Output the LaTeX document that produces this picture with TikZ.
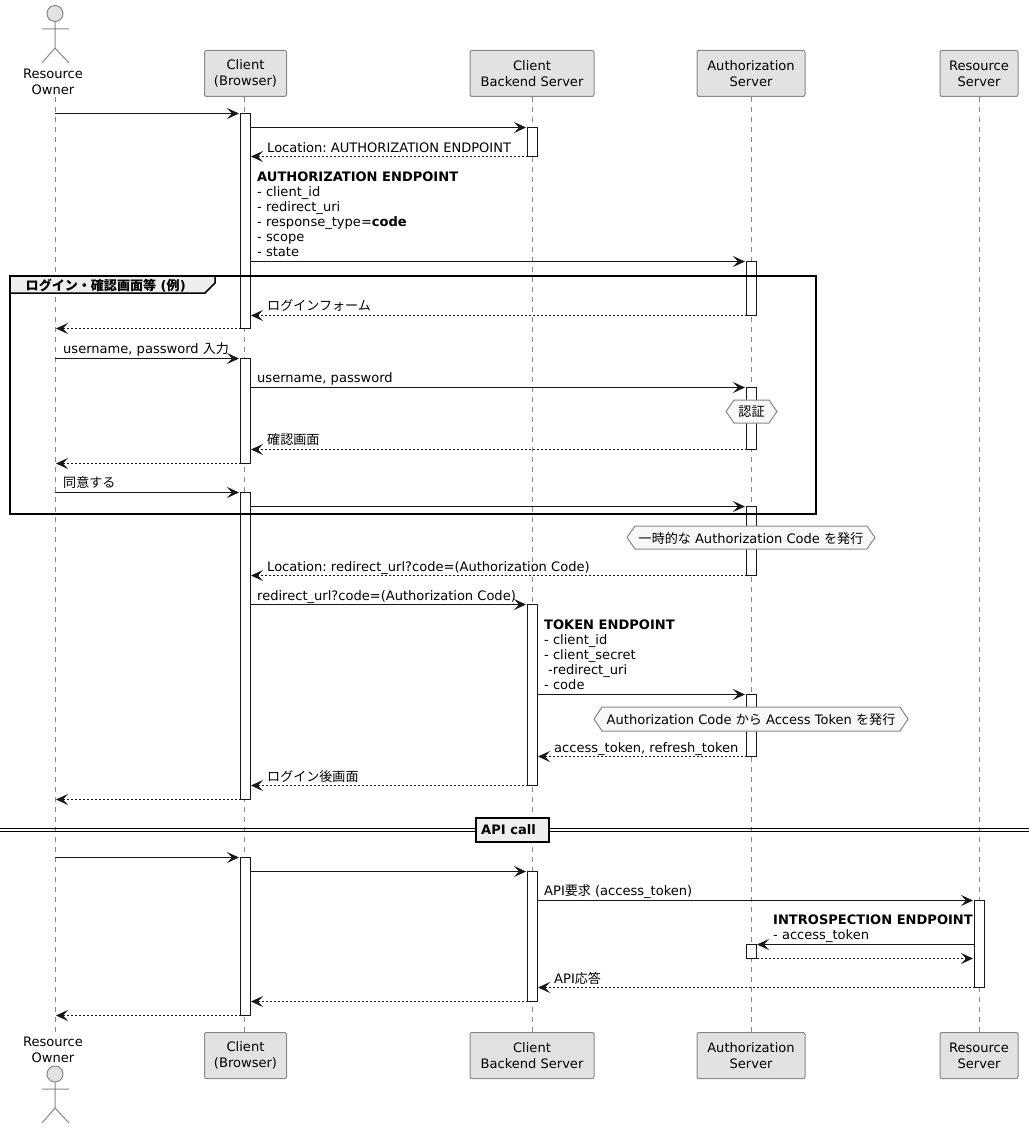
\documentclass[tikz,border=0pt]{standalone}
\usepackage{fontspec}
\setmainfont{DejaVu Sans}
\newfontfamily\jpfont{Noto Sans CJK JP}
\usetikzlibrary{arrows.meta}
\newcommand\ja[1]{{\jpfont #1}}
\frenchspacing
\definecolor{boxfill}{HTML}{E2E2E2}
\definecolor{hexfill}{HTML}{F8F8F8}
\definecolor{ink}{HTML}{181818}
\definecolor{edge}{HTML}{888888}
\definecolor{groupfill}{HTML}{EEEEEE}
\tikzset{
  x=1pt,y=-1pt,
  txt/.style={font=\fontsize{13.05}{15}\selectfont,text=black,inner sep=0pt},
  msgtext/.style={txt,anchor=base west},
  block/.style={txt,anchor=south west,align=left},
  head/.style={txt,font=\fontsize{13.05}{16}\selectfont,draw=edge,fill=boxfill,rounded corners=2pt,line width=1pt,align=center,inner sep=0pt,anchor=center},
  owner/.style={txt,font=\fontsize{13.05}{16}\selectfont,align=center},
  life/.style={draw=edge,line width=1pt,dash pattern=on 5pt off 5pt},
  actorline/.style={draw=edge,line width=1pt},
  bar/.style={draw=ink,fill=white,line width=1pt},
  sync/.style={draw=ink,line width=1pt,-{Stealth[length=12pt,width=11pt,inset=5pt]}},
  reply/.style={draw=ink,line width=1pt,dash pattern=on 2pt off 2pt,-{Stealth[length=12pt,width=11pt,inset=5pt,sep=0pt]}},
  hexa/.style={draw=edge,fill=hexfill,line width=1pt},
}
\newcommand\actbar[4]{\node[bar,inner sep=0pt,outer sep=0pt,minimum width=10pt,minimum height=#4pt-#3pt,anchor=north west] (#1) at (#2,#3) {};}
\newcommand\msg[5]{\coordinate (#1s) at (#3,#2); \coordinate (#1e) at (#4,#2); \draw[#5] (#1s) -- (#1e);}
\newcommand\hexnote[6]{%
  \draw[hexa] (#2,#5) -- (#2+8,#4) -- (#3-8,#4) -- (#3,#5) -- (#3-8,#4+#5-#4+#5-#4) -- (#2+8,#5+#5-#4) -- cycle;
  \node[txt,anchor=center] (#1) at (#2/2+#3/2,#5+0.7) {#6};}
\newcommand\actor[6]{% name, head y, neck, arms, hip, feet
  \draw[actorline,fill=boxfill] (55,#2) circle[radius=8];
  \draw[actorline] (55,#3) -- (55,#5) (42,#4) -- (69,#4) (42,#6) -- (55,#5) -- (69,#6);}
\begin{document}
\begin{tikzpicture}
\useasboundingbox (0,0) rectangle (1029,1129);
% participants, top
\node[owner] (ownerT) at (53,81.7) {Resource\\Owner};
\node[head,minimum width=82pt,minimum height=46pt] (browserT) at (245.5,73.5) {Client\\(Browser)};
\node[head,minimum width=124pt,minimum height=46pt] (backendT) at (532,73.5) {Client\\Backend Server};
\node[head,minimum width=108pt,minimum height=46pt] (authT) at (751,73.5) {Authorization\\Server};
\node[head,minimum width=78pt,minimum height=46pt] (resT) at (979,73.5) {Resource\\Server};
% participants, bottom
\node[owner] (ownerB) at (53,1049.5) {Resource\\Owner};
\node[head,minimum width=82pt,minimum height=46pt] (browserB) at (245.5,1055.5) {Client\\(Browser)};
\node[head,minimum width=124pt,minimum height=46pt] (backendB) at (532,1055.5) {Client\\Backend Server};
\node[head,minimum width=108pt,minimum height=46pt] (authB) at (751,1055.5) {Authorization\\Server};
\node[head,minimum width=78pt,minimum height=46pt] (resB) at (979,1055.5) {Resource\\Server};
\actor{ownerTop}{13.5}{21.5}{29}{48}{63}
\actor{ownerBot}{1074}{1082}{1089}{1108}{1123}
% lifelines
\coordinate (l1a) at (55,97); \coordinate (l1b) at (55,1032);
\coordinate (l2a) at (244.5,97); \coordinate (l2b) at (244.5,1032);
\coordinate (l3a) at (532,97); \coordinate (l3b) at (532,1032);
\coordinate (l4a) at (751,97); \coordinate (l4b) at (751,1032);
\coordinate (l5a) at (979,97); \coordinate (l5b) at (979,1032);
\draw[life] (l1a) -- (l1b);
\draw[life] (l2a) -- (l2b);
\draw[life] (l3a) -- (l3b);
\draw[life] (l4a) -- (l4b);
\draw[life] (l5a) -- (l5b);
% activations
\actbar{b1}{240.5}{113.5}{328.5}
\actbar{b2}{240.5}{358.5}{463.5}
\actbar{b3}{240.5}{492.5}{799.5}
\actbar{b4}{240.5}{857.5}{1015.5}
\actbar{c1}{527.5}{127.5}{156.5}
\actbar{c2}{527.5}{604.5}{785.5}
\actbar{c3}{527.5}{871.5}{1001.5}
\actbar{d1}{746.5}{261.5}{315.5}
\actbar{d2}{746.5}{387.5}{449.5}
\actbar{d3}{746.5}{506.5}{575.5}
\actbar{d4}{746.5}{694.5}{756.5}
\actbar{d5}{746.5}{944.5}{958.5}
\actbar{e1}{974.5}{900.5}{987.5}
% hexagon notes
\hexnote{nA}{726}{777}{400}{411.5}{\ja{認証}}
\hexnote{nB}{627}{875}{526}{537.5}{\ja{一時的な} Authorization Code \ja{を発行}}
\hexnote{nC}{594}{908}{707}{719}{Authorization Code \ja{から} Access Token \ja{を発行}}
% messages
\msg{m1}{113.5}{55}{239}{sync}
\msg{m2}{127.5}{250.5}{526}{sync}
\msg{m3}{156.5}{527.5}{251}{reply}
\node[msgtext] (t3) at (267,152.5) {Location: AUTHORIZATION ENDPOINT};
\msg{m4}{261.5}{250.5}{745}{sync}
\node[block] (t4) at (257,257.3) {\textbf{AUTHORIZATION ENDPOINT}\\- client\_id\\- redirect\_uri\\- response\_type=\textbf{code}\\- scope\\- state};
\msg{m5}{315.5}{746.5}{251}{reply}
\node[msgtext] (t5) at (267,310.5) {\ja{ログインフォーム}};
\msg{m6}{328.5}{240.5}{56}{reply}
\msg{m7}{358.5}{55}{239}{sync}
\node[msgtext] (t7) at (63,353.5) {username, password \ja{入力}};
\msg{m8}{387.5}{250.5}{745}{sync}
\node[msgtext] (t8) at (257,382.5) {username, password};
\msg{m9}{449.5}{746.5}{251}{reply}
\node[msgtext] (t9) at (267,444.5) {\ja{確認画面}};
\msg{m10}{463.5}{240.5}{56}{reply}
\msg{m11}{492.5}{55}{239}{sync}
\node[msgtext] (t11) at (63,487.5) {\ja{同意する}};
\msg{m12}{506.5}{250.5}{745}{sync}
\msg{m13}{575.5}{746.5}{251}{reply}
\node[msgtext] (t13) at (267,571.5) {Location: redirect\_url?code=(Authorization Code)};
\msg{m14}{604.5}{250.5}{526}{sync}
\node[msgtext] (t14) at (257,600.5) {redirect\_url?code=(Authorization Code)};
\msg{m15}{694.5}{537.5}{745}{sync}
\node[block] (t15) at (544,690.3) {\textbf{TOKEN ENDPOINT}\\- client\_id\\- client\_secret\\\hspace*{4pt}-redirect\_uri\\- code};
\msg{m16}{756.5}{746.5}{538}{reply}
\node[msgtext] (t16) at (554,752.5) {access\_token, refresh\_token};
\msg{m17}{785.5}{527.5}{251}{reply}
\node[msgtext] (t17) at (267,781.5) {\ja{ログイン後画面}};
\msg{m18}{799.5}{240.5}{56}{reply}
\msg{m19}{857.5}{55}{239}{sync}
\msg{m20}{871.5}{250.5}{526}{sync}
\msg{m21}{900.5}{537.5}{973}{sync}
\node[msgtext] (t21) at (544,895.5) {API\ja{要求} (access\_token)};
\msg{m22}{944.5}{974.5}{757}{sync}
\node[block] (t22) at (773,942.3) {\textbf{INTROSPECTION ENDPOINT}\\- access\_token};
\msg{m23}{958.5}{756.5}{973}{reply}
\msg{m24}{987.5}{974.5}{538}{reply}
\node[msgtext] (t24) at (554,983.5) {API\ja{応答}};
\msg{m25}{1001.5}{527.5}{251}{reply}
\msg{m26}{1015.5}{240.5}{56}{reply}
% group frame
\draw[draw=black,line width=2pt] (10.2,276.2) rectangle (815.5,514.2);
\draw[draw=black,fill=groupfill,line width=1.5pt] (10.2,276.2) -- (215,276.2) -- (215,283) -- (205,293) -- (10.2,293) -- cycle;
\node[txt,anchor=base west,font=\fontsize{13.05}{15}\selectfont\bfseries] (gt) at (25.5,290) {\ja{ログイン・確認画面等} (\ja{例})};
% divider
\draw[draw=black,line width=1pt] (0,828.8) -- (1029,828.8) (0,831.6) -- (1029,831.6);
\draw[draw=black,fill=groupfill,line width=2pt] (475.5,817.5) rectangle (548.5,841.5);
\node[txt,anchor=base west,font=\fontsize{13.05}{15}\selectfont\bfseries] (api) at (481,834) {API call};
\end{tikzpicture}
\end{document}
